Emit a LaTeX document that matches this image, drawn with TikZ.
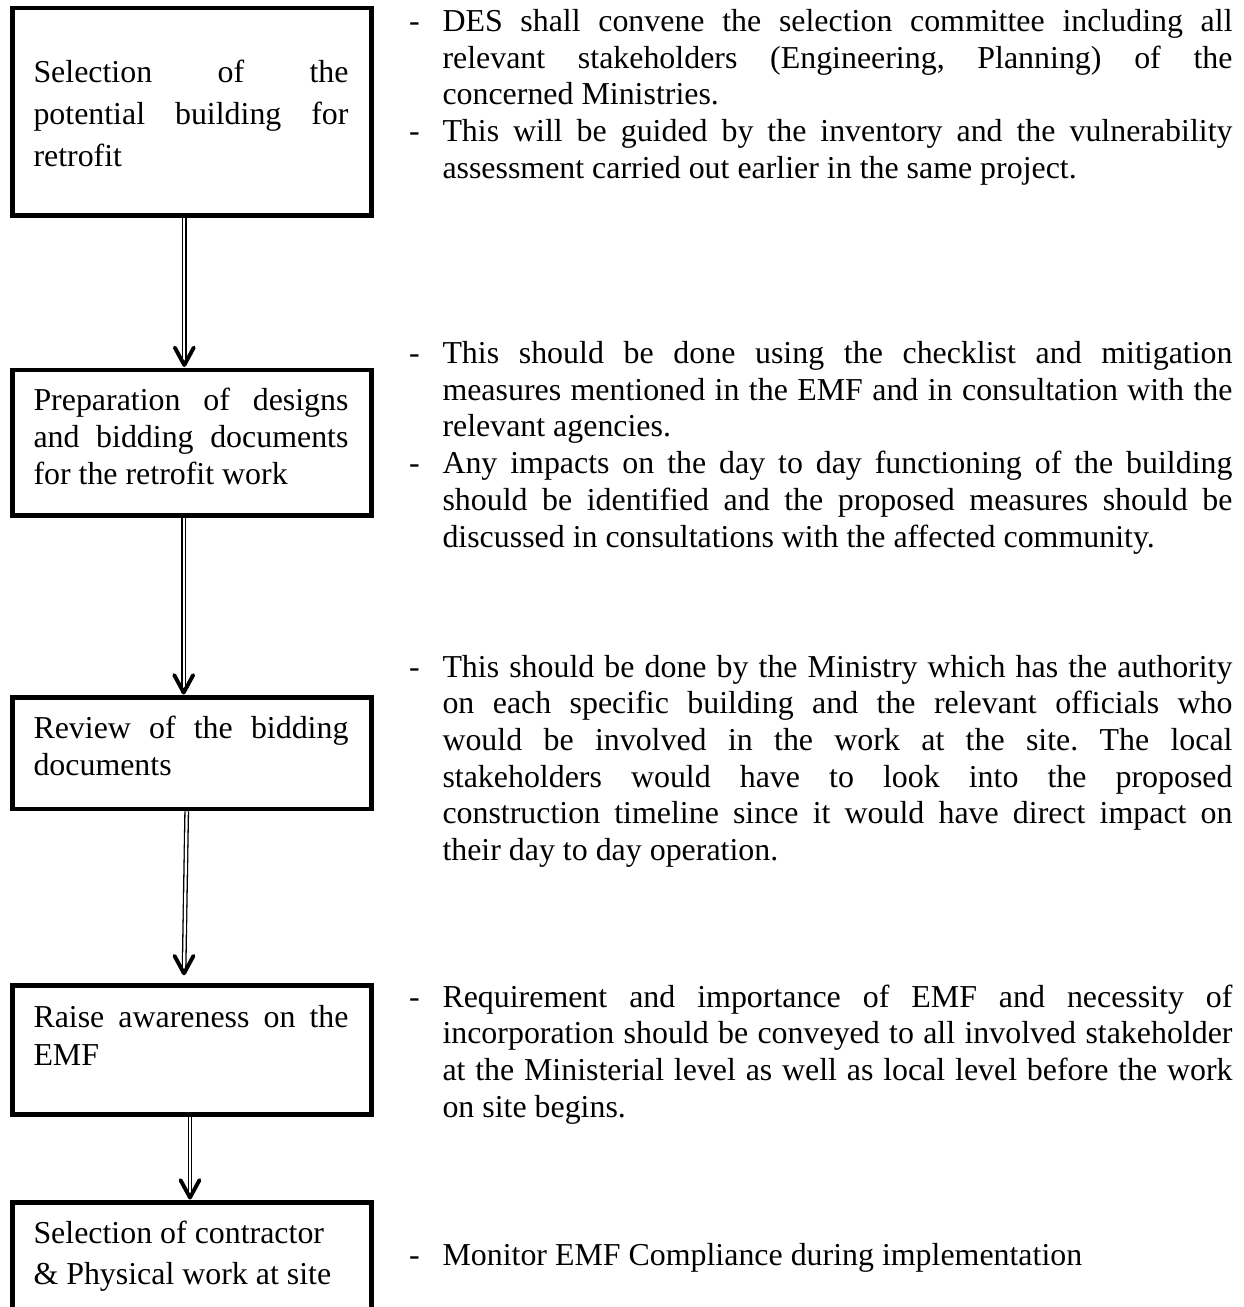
\documentclass[tikz,border=0pt]{standalone}
\usepackage{fontspec}
\setmainfont{Liberation Serif}[Ligatures=NoCommon]
\usetikzlibrary{calc}
\newcommand\RJline[1]{\hbox to 790pt{#1}}
\newcommand\BJline[1]{\hbox to 315pt{#1}}
\newcommand\NLline[1]{\hbox{#1}}
\newcommand\TBlock[2]{\vtop{\baselineskip=#1\lineskiplimit=-1000pt\lineskip=0pt\relax #2}}
\frenchspacing
\hbadness=10000
\begin{document}
\begin{tikzpicture}[x=1pt,y=-1pt,
  box/.style={draw=black, line width=4.3pt, minimum width=359pt, inner sep=0pt},
  txt/.style={inner sep=0pt, outer sep=0pt, anchor=base west, font=\fontsize{31.9pt}{36.7pt}\selectfont},
  dbl/.style={draw=black, line width=1.3pt, double=white, double distance=2.2pt},
  head/.style={draw=black, line width=3.9pt, line cap=round, line join=round}]
\path[use as bounding box, fill=white] (0,0) rectangle (1244,1307);
\clip (0,0) rectangle (1244,1307);
% boxes
\node[box, minimum height=207.2pt] (box1) at (192,111.9) {};
\node[box, minimum height=145.5pt] (box2) at (192,442.75) {};
\node[box, minimum height=111.8pt] (box3) at (192,753.4) {};
\node[box, minimum height=129pt] (box4) at (192,1050) {};
\node[box, minimum height=160pt] (box5) at (192,1282.5) {};
% box texts
\node[txt] (b1t) at (33.5,82) {\TBlock{42pt}{\BJline{Selection of the}\BJline{potential building for}\NLline{retrofit}}};
\node[txt] (b2t) at (33.5,410.5) {\TBlock{37pt}{\BJline{Preparation of designs}\BJline{and bidding documents}\NLline{for the retrofit work}}};
\node[txt] (b3t) at (33.5,738) {\TBlock{37pt}{\BJline{Review of the bidding}\NLline{documents}}};
\node[txt] (b4t) at (33.5,1027) {\TBlock{38pt}{\BJline{Raise awareness on the}\NLline{EMF}}};
\node[txt] (b5t) at (33.5,1243) {\TBlock{41pt}{\NLline{Selection of contractor}\NLline{\& Physical work at site}}};
% arrows
\coordinate (e1) at ($(box2.north)+(-7.7,-2.8)$);
\draw[dbl] ($(box1.south)+(-7.7,0)$) -- (e1);
\draw[head] ($(e1)+(-9.5,-17.5)$) -- (e1) -- ($(e1)+(9.5,-17.5)$);
\coordinate (e2) at ($(box3.north)+(-8.3,-2.8)$);
\draw[dbl] ($(box2.south)+(-8.3,0)$) -- (e2);
\draw[head] ($(e2)+(-9.5,-17.5)$) -- (e2) -- ($(e2)+(9.5,-17.5)$);
\coordinate (e3) at ($(box4.north)+(-8,-10)$);
\draw[dbl] ($(box3.south)+(-5.3,0)$) -- (e3);
\draw[head] ($(e3)+(-9.5,-17.5)$) -- (e3) -- ($(e3)+(9.5,-17.5)$);
\coordinate (e4) at ($(box5.north)+(-2,-2.8)$);
\draw[dbl] ($(box4.south)+(-2,0)$) -- (e4);
\draw[head] ($(e4)+(-9.5,-17.5)$) -- (e4) -- ($(e4)+(9.5,-17.5)$);
% right column
\node[txt] (d1) at (409,31.5) {-};
\node[txt] (d2) at (409,141.6) {-};
\node[txt] (r1) at (442.5,31.5) {\TBlock{36.7pt}{%
\RJline{DES shall convene the selection committee including all}%
\RJline{relevant stakeholders (Engineering, Planning) of the}%
\NLline{concerned Ministries.}%
\RJline{This will be guided by the inventory and the vulnerability}%
\NLline{assessment carried out earlier in the same project.}}};
\node[txt] (d3) at (409,363.5) {-};
\node[txt] (d4) at (409,473.6) {-};
\node[txt] (r2) at (442.5,363.5) {\TBlock{36.7pt}{%
\RJline{This should be done using the checklist and mitigation}%
\RJline{measures mentioned in the EMF and in consultation with the}%
\NLline{relevant agencies.}%
\RJline{Any impacts on the day to day functioning of the building}%
\RJline{should be identified and the proposed measures should be}%
\NLline{discussed in consultations with the affected community.}}};
\node[txt] (d5) at (409,677) {-};
\node[txt] (r3) at (442.5,677) {\TBlock{36.7pt}{%
\RJline{This should be done by the Ministry which has the authority}%
\RJline{on each specific building and the relevant officials who}%
\RJline{would be involved in the work at the site. The local}%
\RJline{stakeholders would have to look into the proposed}%
\RJline{construction timeline since it would have direct impact on}%
\NLline{their day to day operation.}}};
\node[txt] (d6) at (409,1007) {-};
\node[txt] (r4) at (442.5,1007) {\TBlock{36.7pt}{%
\RJline{Requirement and importance of EMF and necessity of}%
\RJline{incorporation should be conveyed to all involved stakeholder}%
\RJline{at the Ministerial level as well as local level before the work}%
\NLline{on site begins.}}};
\node[txt] (d7) at (409,1265) {-};
\node[txt] (r5) at (442.5,1265) {Monitor EMF Compliance during implementation};
\end{tikzpicture}
\end{document}
